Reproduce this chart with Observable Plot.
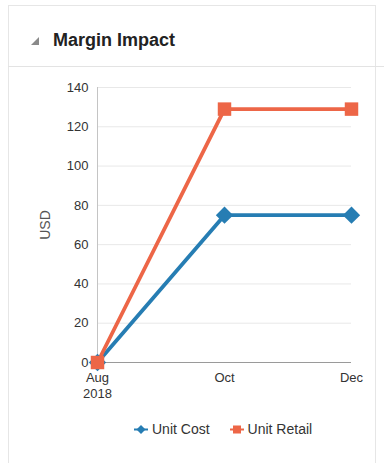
<!DOCTYPE html>
<html>
<head>
<meta charset="utf-8">
<script src="https://cdn.jsdelivr.net/npm/d3@7"></script>
<script src="https://cdn.jsdelivr.net/npm/@observablehq/plot@0.6"></script>
<style>
  html, body { margin: 0; padding: 0; background: #fff; }
  body { width: 386px; height: 463px; position: relative; overflow: hidden; font-family: "Liberation Sans", Arial, Helvetica, sans-serif; }
  #card { position: absolute; left: 8px; top: 5px; width: 368px; height: 470px; border: 1px solid #e6e6e6; box-sizing: border-box; }
  #sep { position: absolute; left: 8px; top: 66px; width: 376px; height: 1px; background: #e3e3e3; }
  #title { position: absolute; left: 53px; top: 30px; font-size: 18px; font-weight: bold; color: #222; white-space: nowrap; }
  #tri { position: absolute; left: 30px; top: 36px; }
  #chart { position: absolute; left: 0; top: 70px; }
  #legend { position: absolute; left: 134px; top: 421px; font-size: 14px; color: #333; display: flex; align-items: center; white-space: nowrap; }
  #legend .item { display: flex; align-items: center; }
  #legend svg { margin-right: 4px; }
</style>
</head>
<body>
<div id="card"></div>
<div id="sep"></div>
<svg id="tri" width="10" height="10"><polygon points="9,1 9,9 1,9" fill="#8a8a8a"/></svg>
<div id="title">Margin Impact</div>
<div id="chart"></div>
<div id="legend"></div>
<script>
const months = ["Aug", "Oct", "Dec"];
const monthLabels = ["Aug\n2018", "Oct", "Dec"];
const unitCost = [0, 75, 75];
const unitRetail = [0, 129, 129];
const seriesNames = ["Unit Cost", "Unit Retail"];
const seriesColors = ["#267db3", "#ed6647"];
const yTicks = [0, 20, 40, 60, 80, 100, 120, 140];

const rows = [];
months.forEach((m, i) => {
  rows.push({month: m, value: unitCost[i], series: seriesNames[0]});
});
months.forEach((m, i) => {
  rows.push({month: m, value: unitRetail[i], series: seriesNames[1]});
});
const costRows = rows.filter(d => d.series === seriesNames[0]);
const retailRows = rows.filter(d => d.series === seriesNames[1]);

const chart = Plot.plot({
  width: 386,
  height: 340,
  marginLeft: 97,
  marginRight: 35,
  marginTop: 17,
  marginBottom: 48,
  style: {fontFamily: "'Liberation Sans', Arial, Helvetica, sans-serif", fontSize: "13px", color: "#333", background: "transparent"},
  x: {type: "point", domain: months, padding: 0},
  y: {domain: [0, 140], ticks: yTicks},
  color: {domain: seriesNames, range: seriesColors},
  marks: [
    Plot.gridY(yTicks, {stroke: "#e8e8e8", strokeOpacity: 1}),
    Plot.axisY(yTicks, {tickSize: 0, tickPadding: 9, fill: "#333", fontSize: 13, label: "USD", labelAnchor: "center", labelArrow: "none", labelOffset: 57}),
    Plot.axisX({tickSize: 0, tickPadding: 8, fill: "#333", fontSize: 13, label: null, lineHeight: 1.25, tickFormat: (d, i) => monthLabels[months.indexOf(d)]}),
    Plot.frame({anchor: "left", stroke: "#c4c4c4"}),
    Plot.ruleY([0], {stroke: "#9a9a9a"}),
    Plot.line(costRows, {x: "month", y: "value", stroke: seriesColors[0], strokeWidth: 3.8}),
    Plot.line(retailRows, {x: "month", y: "value", stroke: seriesColors[1], strokeWidth: 3.8}),
    Plot.dot(costRows, {x: "month", y: "value", symbol: "square", r: 6.9, rotate: 45, fill: seriesColors[0], stroke: "none"}),
    Plot.dot(retailRows, {x: "month", y: "value", symbol: "square", r: 7.6, fill: seriesColors[1], stroke: "none"})
  ]
});
chart.querySelectorAll("[aria-label='y-axis label']").forEach(g => {
  g.setAttribute("fill", "#555");
  g.setAttribute("font-size", "14");
  g.querySelectorAll("text").forEach(t => { t.setAttribute("fill", "#555"); t.setAttribute("font-size", "14"); });
});
document.getElementById("chart").appendChild(chart);

const legend = document.getElementById("legend");
seriesNames.forEach((name, i) => {
  const item = document.createElement("div");
  item.className = "item";
  item.style.marginRight = i === 0 ? "20px" : "0";
  const shape = i === 0
    ? `<polygon points="7,2 11.5,6.5 7,11 2.5,6.5" fill="${seriesColors[i]}"/>`
    : `<rect x="3" y="2.5" width="8" height="8" fill="${seriesColors[i]}"/>`;
  item.innerHTML = `<svg width="14" height="13"><line x1="0" x2="14" y1="6.5" y2="6.5" stroke="${seriesColors[i]}" stroke-width="2"/>${shape}</svg><span>${name}</span>`;
  legend.appendChild(item);
});
</script>
</body>
</html>
